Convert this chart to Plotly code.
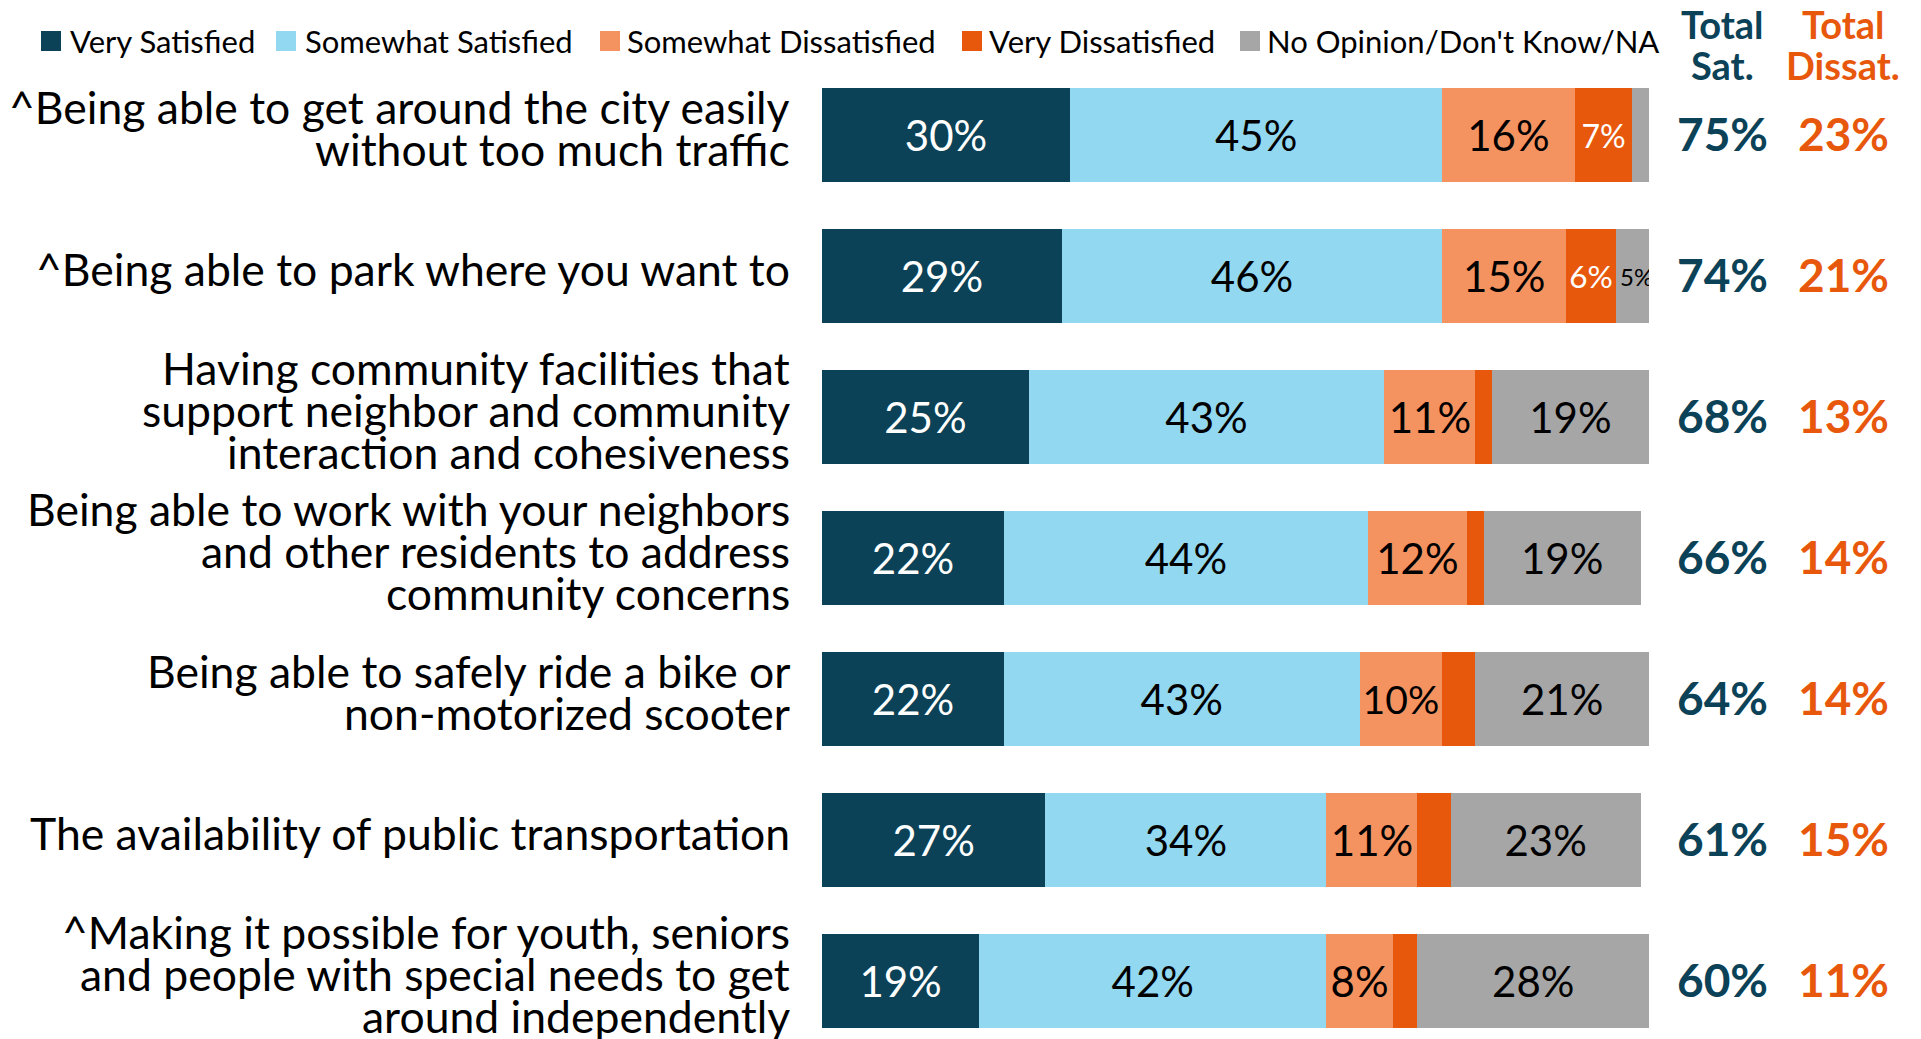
import plotly.graph_objects as go

# ---- data -------------------------------------------------------------
categories = [
    "^Being able to get around the city easily\nwithout too much traffic",
    "^Being able to park where you want to",
    "Having community facilities that\nsupport neighbor and community\ninteraction and cohesiveness",
    "Being able to work with your neighbors\nand other residents to address\ncommunity concerns",
    "Being able to safely ride a bike or\nnon-motorized scooter",
    "The availability of public transportation",
    "^Making it possible for youth, seniors\nand people with special needs to get\naround independently",
]
very_satisfied = [30, 29, 25, 22, 22, 27, 19]
somewhat_satisfied = [45, 46, 43, 44, 43, 34, 42]
somewhat_dissatisfied = [16, 15, 11, 12, 10, 11, 8]
very_dissatisfied = [7, 6, 2, 2, 4, 4, 3]
no_opinion = [2, 5, 19, 19, 21, 23, 28]
total_sat = [75, 74, 68, 66, 64, 61, 60]
total_dissat = [23, 21, 13, 14, 14, 15, 11]

series_names = ["Very Satisfied", "Somewhat Satisfied", "Somewhat Dissatisfied",
                "Very Dissatisfied", "No Opinion/Don't Know/NA"]
series_values = [very_satisfied, somewhat_satisfied, somewhat_dissatisfied,
                 very_dissatisfied, no_opinion]

# ---- styling ----------------------------------------------------------
COLORS = ["#0B4257", "#92D8F1", "#F59360", "#E8580C", "#A6A6A6"]
TEXT_COLORS = ["white", "black", "black", "white", "black"]
SAT_COLOR = "#0B4257"
DISSAT_COLOR = "#E8580C"
FONT = "Lato, 'Open Sans', sans-serif"

W, H = 1921, 1039
PLOT_L, PLOT_R = 822, 1649          # pixel extent of the bar area
PLOT_T = 64                         # top of the bar area
ROW_PX = 141                        # pixel pitch between rows
FIRST_ROW_Y = 135                   # pixel centre of the first row
PLOT_H = H - PLOT_T
PLOT_W = PLOT_R - PLOT_L


def px_x(px):
    return (px - PLOT_L) / PLOT_W


def px_y(py):
    return 1 - (py - PLOT_T) / PLOT_H


y_top = -(FIRST_ROW_Y - PLOT_T) / ROW_PX
y_bottom = y_top + PLOT_H / ROW_PX

fig = go.Figure()

for name, vals, color, tcolor in zip(series_names, series_values, COLORS, TEXT_COLORS):
    labels = [f"{v}%" if v >= 5 else "" for v in vals]
    sizes = [42 if v >= 8 else (32 if v >= 6 else 24) for v in vals]
    fig.add_trace(go.Bar(
        name=name,
        y=categories,
        x=vals,
        orientation="h",
        marker=dict(color=color, line=dict(width=0)),
        width=0.667,
        text=labels,
        textposition="inside",
        insidetextanchor="middle",
        textangle=0,
        textfont=dict(family=FONT, size=sizes, color=tcolor),
        showlegend=False,
        hoverinfo="skip",
    ))

annotations = []
shapes = []

# category labels, one annotation per text line for tight line spacing
LINE_PX = 42
for i, cat in enumerate(categories):
    lines = cat.split("\n")
    n = len(lines)
    for j, line in enumerate(lines):
        off = (j - (n - 1) / 2) * LINE_PX - 8
        annotations.append(dict(
            x=0, xref="paper", xanchor="right", xshift=-30,
            y=i, yref="y", yanchor="middle", yshift=-off,
            text=line, showarrow=False,
            font=dict(family=FONT, size=44.5, color="black"),
        ))

# total columns
SAT_X, DISSAT_X = 1722, 1843
for i in range(len(categories)):
    annotations.append(dict(
        x=px_x(SAT_X), xref="paper", xanchor="center",
        y=i, yref="y", yanchor="middle", yshift=2,
        text=f"<b>{total_sat[i]}%</b>", showarrow=False,
        font=dict(family=FONT, size=46, color=SAT_COLOR),
    ))
    annotations.append(dict(
        x=px_x(DISSAT_X), xref="paper", xanchor="center",
        y=i, yref="y", yanchor="middle", yshift=2,
        text=f"<b>{total_dissat[i]}%</b>", showarrow=False,
        font=dict(family=FONT, size=46, color=DISSAT_COLOR),
    ))

for cx, words, color in [(SAT_X, ["Total", "Sat."], SAT_COLOR),
                         (DISSAT_X, ["Total", "Dissat."], DISSAT_COLOR)]:
    for py, w in zip([24, 65], words):
        annotations.append(dict(
            x=px_x(cx), xref="paper", xanchor="center",
            y=px_y(py), yref="paper", yanchor="middle",
            text=f"<b>{w}</b>", showarrow=False,
            font=dict(family=FONT, size=38, color=color),
        ))

# legend row
legend_square_x = [41, 276, 600, 962, 1240]
legend_text_x = [68, 303, 625, 987, 1265]
LEG_Y = 41
for sx, tx, name, color in zip(legend_square_x, legend_text_x, series_names, COLORS):
    shapes.append(dict(
        type="rect", xref="paper", yref="paper",
        x0=px_x(sx), x1=px_x(sx + 20),
        y0=px_y(LEG_Y + 10), y1=px_y(LEG_Y - 10),
        fillcolor=color, line=dict(width=0),
    ))
    annotations.append(dict(
        x=px_x(tx), xref="paper", xanchor="left",
        y=px_y(LEG_Y), yref="paper", yanchor="middle",
        text=name, showarrow=False,
        font=dict(family=FONT, size=31, color="black"),
    ))

fig.update_layout(
    width=W, height=H, autosize=False,
    barmode="stack",
    margin=dict(l=PLOT_L, r=W - PLOT_R, t=PLOT_T, b=0, pad=0),
    paper_bgcolor="white", plot_bgcolor="white",
    xaxis=dict(range=[0, 100], showgrid=False, zeroline=False,
               showticklabels=False, showline=False, fixedrange=True),
    yaxis=dict(range=[y_bottom, y_top], showgrid=False, zeroline=False,
               showticklabels=False, showline=False, fixedrange=True),
    annotations=annotations,
    shapes=shapes,
    font=dict(family=FONT),
)

fig.write_html("out.html")
